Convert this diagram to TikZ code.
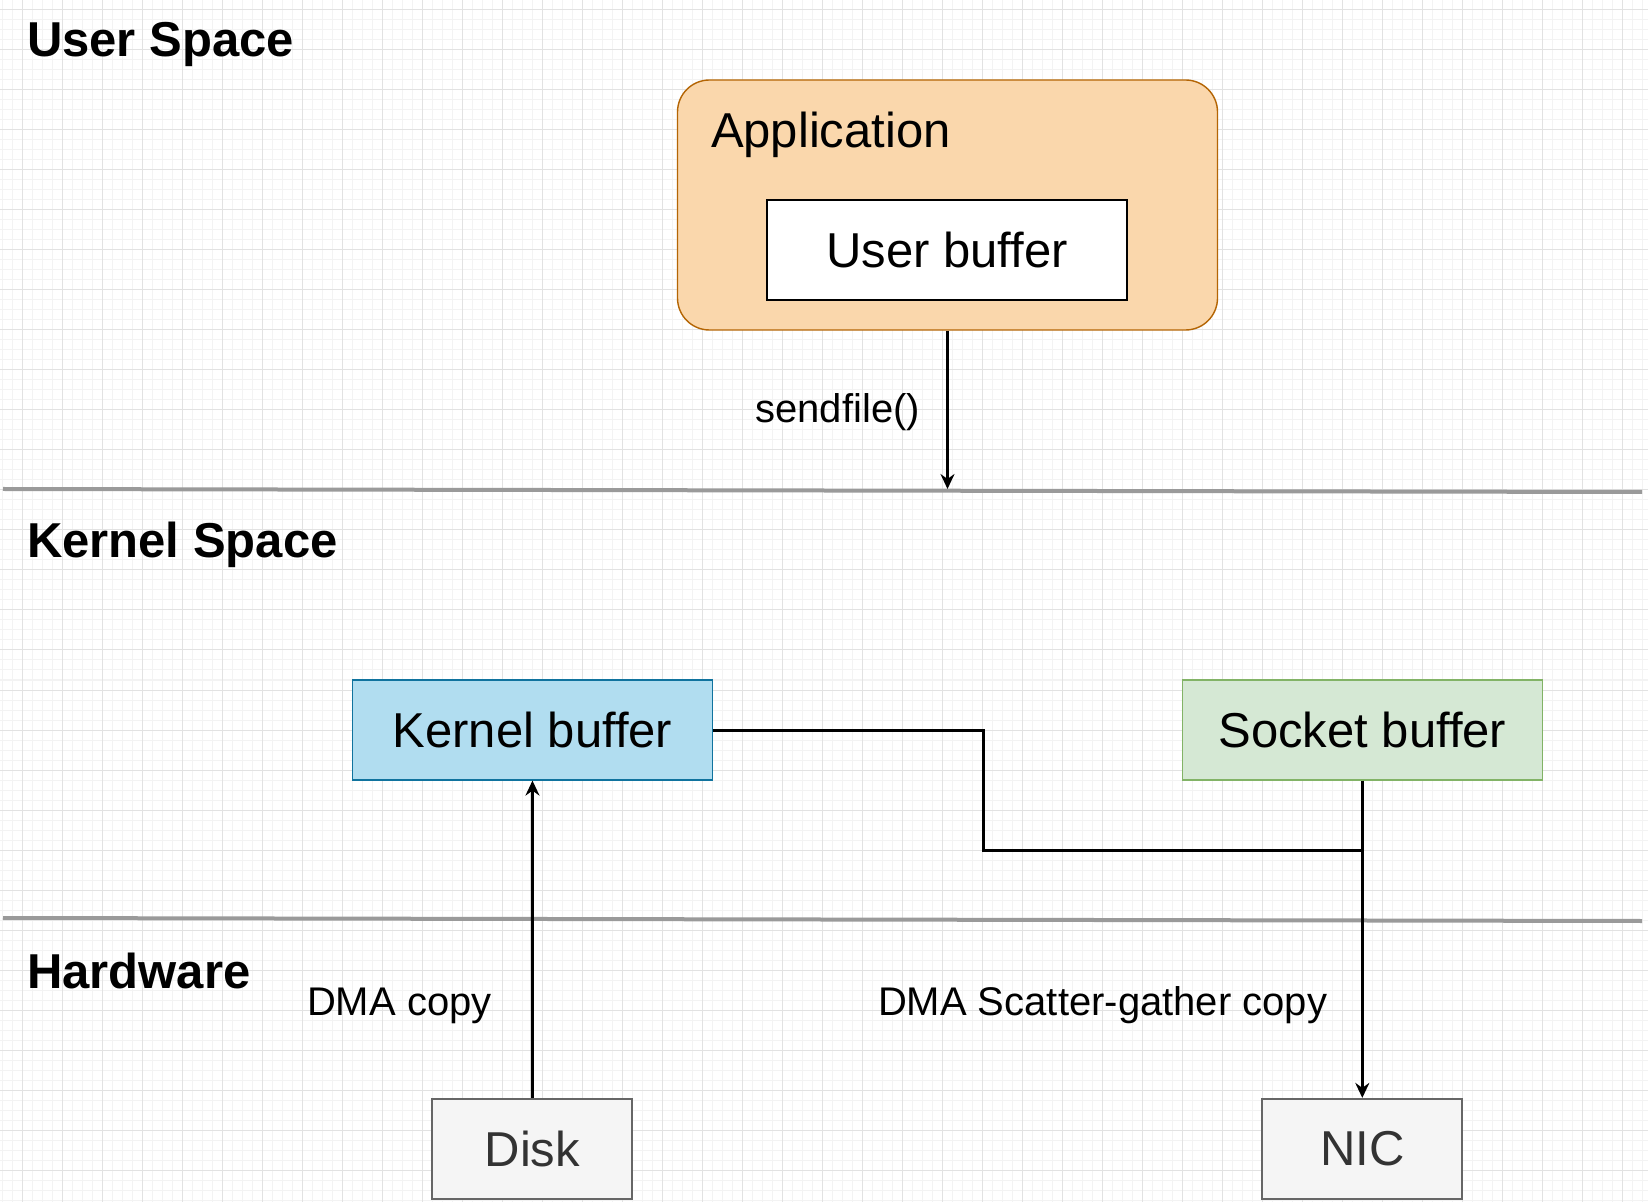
\documentclass[tikz,border=0pt]{standalone}
\usepackage{fontspec}
\setmainfont{Liberation Sans}
\usetikzlibrary{arrows.meta}

\definecolor{appfill}{HTML}{FAD7AC}
\definecolor{appline}{HTML}{B46504}
\definecolor{kfill}{HTML}{B1DDF0}
\definecolor{kline}{HTML}{10739E}
\definecolor{sfill}{HTML}{D5E8D4}
\definecolor{sline}{HTML}{82B366}
\definecolor{devfill}{HTML}{F5F5F5}
\definecolor{devline}{HTML}{666666}
\definecolor{devtext}{HTML}{333333}
\definecolor{sepgray}{HTML}{9A9A9A}
\definecolor{gridminor}{HTML}{F3F3F3}
\definecolor{gridmajor}{HTML}{E2E2E2}

\tikzset{
  buf/.style={shape=rectangle,draw=black,align=center,line width=0.6pt,inner sep=0pt,
    minimum width=180pt,minimum height=50pt,font=\fontsize{24.5}{29}\selectfont},
  dev/.style={buf,draw=devline,fill=devfill,text=devtext,line width=1.1pt,minimum width=100pt},
  title/.style={anchor=base west,inner sep=0pt,font=\bfseries\fontsize{24.5}{29}\selectfont},
  lbl/.style={anchor=base west,inner sep=0pt,font=\fontsize{20}{24}\selectfont},
  link/.style={draw=black,line width=1.5pt},
  tip/.style={-{Stealth[length=7.5pt,width=7pt,inset=2.5pt]}},
  sep/.style={draw=sepgray,line width=2pt}
}

\begin{document}
\begin{tikzpicture}[x=0.5pt,y=-0.5pt]
\useasboundingbox (0,0) rectangle (1648,1202);
\fill[white] (0,0) rectangle (1648,1202);
% grid
\foreach \x in {2.3,12.3,...,1648} \draw[gridminor,line width=0.5pt] (\x,0) -- (\x,1202);
\foreach \y in {0,10,...,1202} \draw[gridminor,line width=0.5pt] (0,\y) -- (1648,\y);
\foreach \x in {22.3,62.3,...,1648} \draw[gridmajor,line width=0.5pt] (\x,0) -- (\x,1202);
\foreach \y in {10,50,...,1202} \draw[gridmajor,line width=0.5pt] (0,\y) -- (1648,\y);

% layers
\draw[sep] (3,489) -- (1642,492);
\draw[sep] (3,918) -- (1642,921);
\node[title] (0) at (26.7,56.7) {User Space};
\node[title] (1) at (26.7,558) {Kernel Space};
\node[title] (2) at (26.7,988) {Hardware};

% boxes
\node[shape=rectangle,draw=appline,fill=appfill,line width=0.7pt,rounded corners=16pt,
  minimum width=270pt,minimum height=125pt] (app) at (947.5,205) {};
\node[anchor=base west,inner sep=0pt,font=\fontsize{24.5}{29}\selectfont] (appl) at (710.6,148) {Application};
\node[buf,fill=white] (ubuf) at (947,250) {User buffer};
\node[buf,draw=kline,fill=kfill] (kbuf) at (532.5,730) {Kernel buffer};
\node[buf,draw=sline,fill=sfill] (sbuf) at (1362.3,730) {Socket buffer};
\node[dev] (disk) at (532.3,1149) {Disk};
\node[dev] (nic) at (1362.3,1149) {NIC};

% labels
\node[lbl] (l0) at (755,423) {sendfile()};
\node[lbl] (l1) at (306.7,1015) {DMA copy};
\node[lbl] (l2) at (877.6,1015) {DMA Scatter-gather copy};

% links
\coordinate (c0) at (947.5,489);
\coordinate (c1) at (1362.3,850);
\path [link,tip] (app) edge node {} (c0);
\path [link,tip] (disk) edge node {} (kbuf);
\path [link,tip] (sbuf) edge node {} (nic);
\draw [link] (kbuf.east) -- ++(270,0) |- (c1);
\end{tikzpicture}
\end{document}
